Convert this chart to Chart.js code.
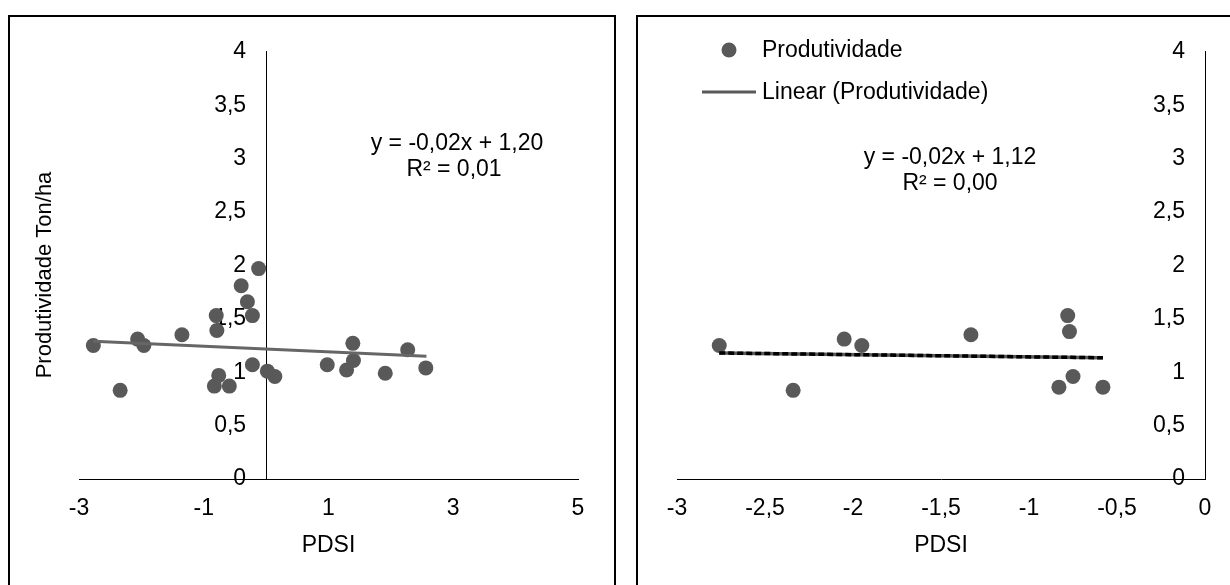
<!DOCTYPE html>
<html>
<head>
<meta charset="utf-8">
<script src="https://cdn.jsdelivr.net/npm/chart.js@4.4.0/dist/chart.umd.min.js"></script>
<style>
  body { margin: 0; background: #fff; }
  #pagina { position: relative; width: 1230px; height: 585px; overflow: hidden; background: #fff; }
  .painel { position: absolute; border: 2px solid #000; box-sizing: border-box; }
  canvas { position: absolute; }
</style>
</head>
<body>
<div id="pagina">
  <div class="painel" style="left:8px; top:15px; width:608px; height:620px;"></div>
  <div class="painel" style="left:636px; top:15px; width:700px; height:620px;"></div>
  <canvas id="graficoTodos" width="600" height="567" style="left:12px; top:18px;"></canvas>
  <canvas id="graficoSeca" width="588" height="567" style="left:640px; top:18px;"></canvas>
</div>
<script>
// valores (PDSI x produtividade)
let pdsi = [-2.77, -2.34, -2.06, -1.96, -1.35, -0.80, -0.79, -0.83, -0.76, -0.59, -0.40, -0.30,
  -0.22, -0.22, -0.12, 0.02, 0.14, 0.98, 1.39, 1.40, 1.29, 1.91, 2.27, 2.56];
let produtividade = [1.25, 0.83, 1.31, 1.25, 1.35, 1.53, 1.39, 0.87, 0.97, 0.87, 1.81, 1.66,
  1.53, 1.07, 1.97, 1.01, 0.96, 1.07, 1.27, 1.11, 1.02, 0.99, 1.21, 1.04];

// so os anos secos (PDSI abaixo de -0,5)
let pdsiSeca = [-2.76, -2.34, -2.05, -1.95, -1.33, -0.78, -0.77, -0.83, -0.75, -0.58];
let produtividadeSeca = [1.25, 0.83, 1.31, 1.25, 1.35, 1.53, 1.38, 0.86, 0.96, 0.86];

// extremos das linhas de tendencia
let tendX = [-2.77, 2.57];
let tendY = [1.29, 1.15];
let tendSecaX = [-2.76, -0.58];
let tendSecaY = [1.18, 1.135];

const fonte = "'Liberation Sans', Arial, sans-serif";
const cinza = "#595959";
Chart.defaults.font.family = fonte;
Chart.defaults.font.size = 23;
Chart.defaults.color = "#000";

function virgula(v) {
  return String(v).replace(".", ",");
}

function pontos(xs, ys) {
  return xs.map((x, i) => ({ x: x, y: ys[i] }));
}

function escalas(minX, maxX, passoX) {
  return {
    x: {
      type: "linear",
      position: "bottom",
      min: minX,
      max: maxX,
      grid: { display: false, drawTicks: false },
      border: { display: true, color: "#000", width: 1 },
      ticks: { stepSize: passoX, padding: 16, callback: (v) => virgula(v) },
      title: { display: true, text: "PDSI", padding: 0 },
      afterFit: (s) => { s.height = 80; },
    },
    y: {
      type: "linear",
      position: "left",
      min: 0,
      max: 4,
      grid: { display: false, drawTicks: false },
      border: { display: true, color: "#000", width: 1 },
      ticks: { stepSize: 0.5, padding: 20, callback: (v) => virgula(v) },
      afterFit: (s) => { s.width = 0; },
    },
  };
}

// eixo y cruzando em x = 0 (como no excel)
const eixoNoZero = {
  id: "eixoNoZero",
  afterLayout(chart) {
    let y = chart.scales.y;
    let px = chart.scales.x.getPixelForValue(0);
    y.left = px - 90;
    y.right = px;
  },
};

// textos soltos desenhados no canvas (equacao, titulo do eixo y)
function textos(lista) {
  return {
    id: "textos",
    afterDraw(chart) {
      const ctx = chart.ctx;
      ctx.save();
      lista.forEach((t) => {
        ctx.font = (t.size || 23) + "px " + fonte;
        ctx.fillStyle = "#000";
        ctx.textAlign = "center";
        ctx.textBaseline = "middle";
        ctx.save();
        ctx.translate(t.x, t.y);
        if (t.rot) ctx.rotate(t.rot);
        ctx.fillText(t.text, 0, 0);
        ctx.restore();
      });
      ctx.restore();
    },
  };
}

const legenda = {
  id: "legenda",
  afterDraw(chart) {
    const ctx = chart.ctx;
    ctx.save();
    ctx.fillStyle = cinza;
    ctx.beginPath();
    ctx.arc(89, 32, 7.5, 0, Math.PI * 2);
    ctx.fill();
    ctx.strokeStyle = cinza;
    ctx.lineWidth = 3;
    ctx.beginPath();
    ctx.moveTo(62, 74);
    ctx.lineTo(116, 74);
    ctx.stroke();
    ctx.font = "23px " + fonte;
    ctx.fillStyle = "#000";
    ctx.textAlign = "left";
    ctx.textBaseline = "middle";
    ctx.fillText("Produtividade", 122, 33);
    ctx.fillText("Linear (Produtividade)", 122, 75);
    ctx.restore();
  },
};

new Chart(document.getElementById("graficoTodos"), {
  type: "scatter",
  data: {
    datasets: [
      {
        label: "Linear (Produtividade)",
        type: "line",
        data: pontos(tendX, tendY),
        borderColor: "#666666",
        borderWidth: 3,
        pointRadius: 0,
      },
      {
        label: "Produtividade",
        data: pontos(pdsi, produtividade),
        backgroundColor: cinza,
        borderWidth: 0,
        pointRadius: 7.5,
      },
    ],
  },
  options: {
    responsive: false,
    animation: false,
    layout: { padding: { left: 67, right: 34, top: 27, bottom: 26 } },
    plugins: { legend: { display: false }, tooltip: { enabled: false } },
    scales: escalas(-3, 5, 2),
  },
  plugins: [
    eixoNoZero,
    textos([
      { text: "y = -0,02x + 1,20", x: 445, y: 126 },
      { text: "R² = 0,01", x: 442, y: 152 },
      { text: "Produtividade Ton/ha", x: 33, y: 257, rot: -Math.PI / 2, size: 22 },
    ]),
  ],
});

new Chart(document.getElementById("graficoSeca"), {
  type: "scatter",
  data: {
    datasets: [
      {
        // pontilhado preto por cima da linha cinza
        label: "tracejado",
        type: "line",
        data: pontos(tendSecaX, tendSecaY),
        borderColor: "#000",
        borderWidth: 3.5,
        borderDash: [6, 3],
        pointRadius: 0,
      },
      {
        label: "Linear (Produtividade)",
        type: "line",
        data: pontos(tendSecaX, tendSecaY),
        borderColor: "#595959",
        borderWidth: 3.5,
        pointRadius: 0,
      },
      {
        label: "Produtividade",
        data: pontos(pdsiSeca, produtividadeSeca),
        backgroundColor: cinza,
        borderWidth: 0,
        pointRadius: 7.5,
      },
    ],
  },
  options: {
    responsive: false,
    animation: false,
    layout: { padding: { left: 37, right: 23, top: 27, bottom: 26 } },
    plugins: { legend: { display: false }, tooltip: { enabled: false } },
    scales: escalas(-3, 0, 0.5),
  },
  plugins: [
    eixoNoZero,
    legenda,
    textos([
      { text: "y = -0,02x + 1,12", x: 310, y: 140 },
      { text: "R² = 0,00", x: 310, y: 166 },
    ]),
  ],
});
</script>
</body>
</html>
